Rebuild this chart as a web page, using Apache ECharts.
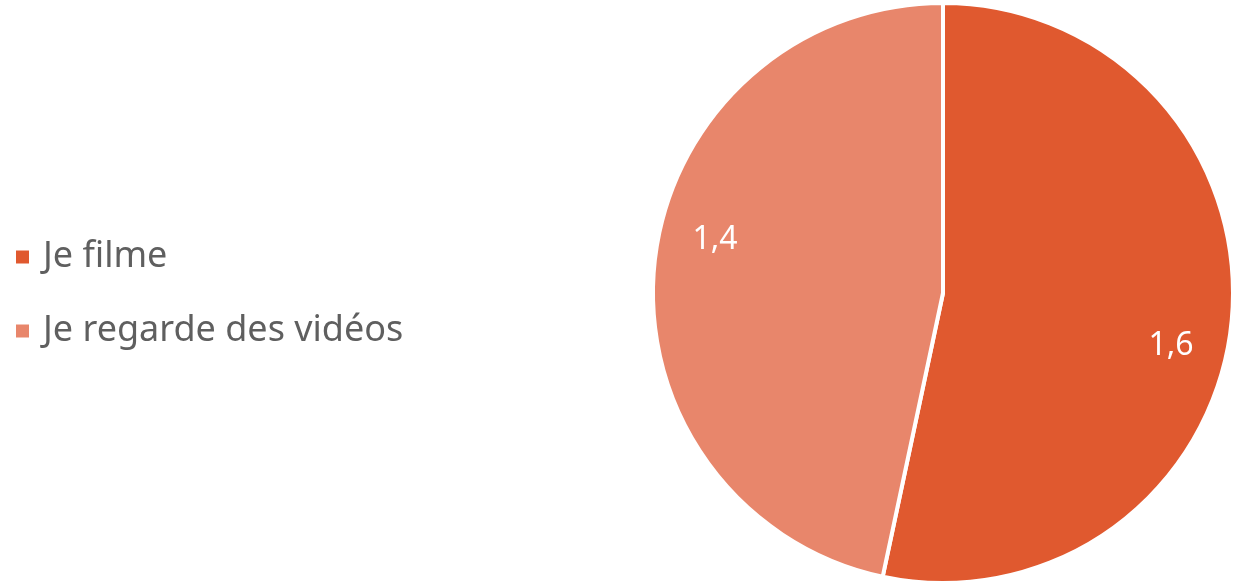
<!DOCTYPE html>
<html>
<head>
<meta charset="utf-8">
<script src="https://cdn.jsdelivr.net/npm/echarts@6/dist/echarts.min.js"></script>
<style>
html,body{margin:0;padding:0;background:#fff;}
#chart{width:1233px;height:583px;}
</style>
</head>
<body>
<div id="chart"></div>
<script>
const categories = ['Je filme', 'Je regarde des vidéos'];
const values = [1.6, 1.4];
const colors = ['#E0592F', '#E8866B'];

const chart = echarts.init(document.getElementById('chart'));
const data = categories.map((c, i) => ({ name: c, value: values[i], itemStyle: { color: colors[i] } }));
const labelData = categories.map((c, i) => ({ name: c, value: values[i] }));

chart.setOption({
  animation: false,
  legend: {
    orient: 'vertical',
    left: 14,
    top: 239,
    padding: 0,
    itemWidth: 15,
    itemHeight: 15,
    itemGap: 38,
    icon: 'rect',
    data: categories,
    textStyle: { fontFamily: 'Noto Sans', fontSize: 36, lineHeight: 36, color: '#5f5f5f', padding: [0, 0, 0, 8] }
  },
  series: [
    {
      type: 'pie',
      center: [943, 293],
      radius: [0, 290],
      startAngle: 90,
      clockwise: true,
      label: { show: false },
      labelLine: { show: false },
      itemStyle: { borderColor: '#fff', borderWidth: 4 },
      emphasis: { disabled: true },
      data: data
    },
    {
      type: 'pie',
      center: [943, 293],
      radius: [172, 290],
      startAngle: 83,
      clockwise: true,
      silent: true,
      legendHoverLink: false,
      itemStyle: { color: 'rgba(0,0,0,0)' },
      label: {
        show: true,
        position: 'inside',
        color: '#fff',
        fontFamily: 'Noto Sans',
        fontSize: 32,
        formatter: p => String(p.value).replace('.', ',')
      },
      labelLine: { show: false },
      data: labelData
    }
  ]
});
</script>
</body>
</html>
